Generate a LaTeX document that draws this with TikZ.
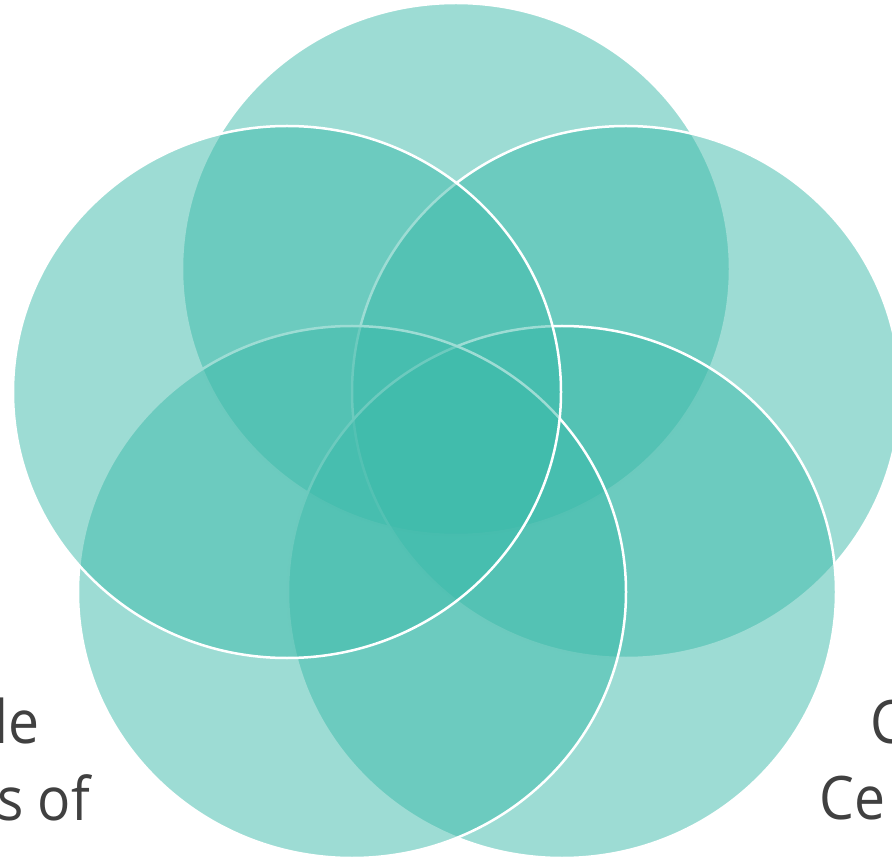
\documentclass[tikz,border=0pt]{standalone}
\usepackage{fontspec}
\setmainfont{Open Sans}[FakeStretch=0.92]
\usepackage{xcolor}
\definecolor{teal5}{RGB}{60,186,170}
\definecolor{txtgray}{RGB}{64,64,64}
\tikzset{
  circ/.style={fill=teal5, fill opacity=0.5, draw=white, line width=2.5pt},
  lbl/.style={inner sep=0pt, text=txtgray, font=\fontsize{60}{77}\selectfont}
}
\begin{document}
\begin{tikzpicture}[x=1pt,y=-1pt]
    \useasboundingbox (0,0) rectangle (892,858);
    \clip (0,0) rectangle (892,858);
    % five ellipses, clockwise from the top
    \foreach \cx/\cy in {456/269,626/392,562/592,352/592,287/392}
    \draw[circ] (\cx,\cy) ellipse [x radius=274pt, y radius=266pt];
    % labels cut by the edges
    \node[lbl, anchor=base east] (leftA) at (40,743) {le};
    \node[lbl, anchor=base east] (leftB) at (90,820) {s of};
    \node[lbl, anchor=base west] (rightA) at (870,743) {C};
    \node[lbl, anchor=base west] (rightB) at (819,819) {Ce};
\end{tikzpicture}
\end{document}
